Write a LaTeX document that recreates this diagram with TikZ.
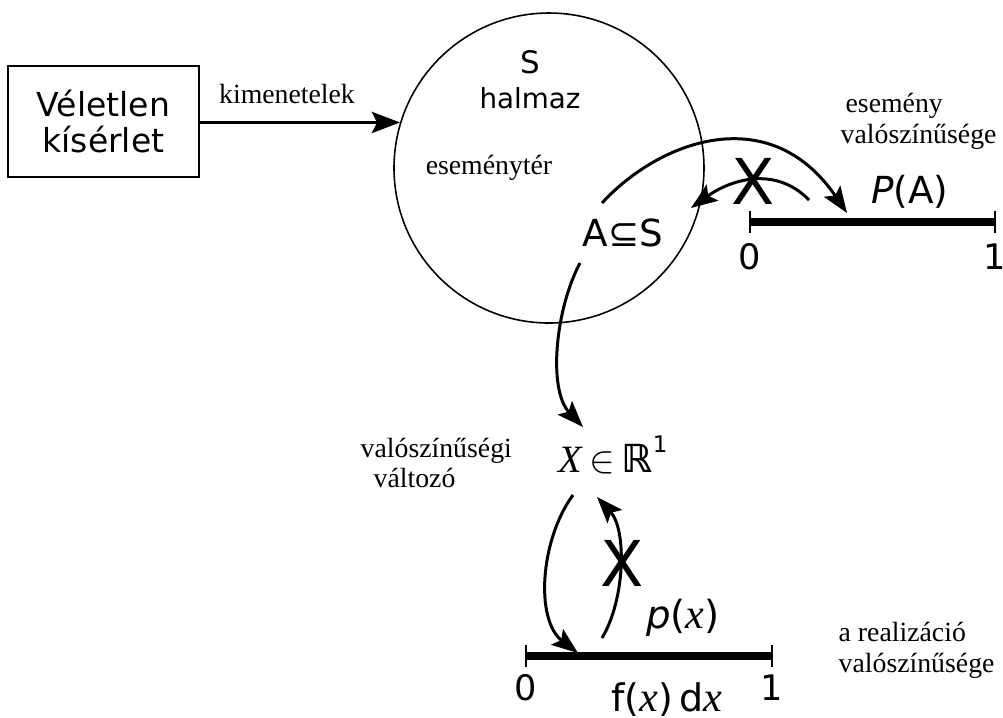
\documentclass[tikz,border=0pt]{standalone}
\usepackage{fontspec}
\setmainfont{Liberation Serif}
\setsansfont{DejaVu Sans}
\usetikzlibrary{arrows.meta}

\begin{document}
\begin{tikzpicture}[x=0.1mm, y=-0.1mm,
  lbl/.style={font=\fontsize{7.9}{8.8}\selectfont, align=left, inner sep=0pt},
  sflbl/.style={font=\sffamily\fontsize{10}{11}\selectfont, inner sep=0pt},
  bigx/.style={font=\sffamily\fontsize{18}{18}\selectfont, inner sep=0pt},
  arr/.style={line width=0.85pt, -{Stealth[length=7.5pt, width=5.6pt, inset=1.5pt]}},
  numline/.style={line width=2.3pt},
  tickmark/.style={line width=0.6pt}]
  \useasboundingbox (0,0) rectangle (1003,717);

  % experiment -> sample space
  \node[draw, line width=0.5pt, minimum width=19.1mm, minimum height=11.1mm,
        align=center, sflbl, font=\sffamily\fontsize{9.4}{10.5}\selectfont] (exp) at (103.5,121.5) {Véletlen\\kísérlet};
  \node[circle, draw, line width=0.45pt, minimum size=31mm, inner sep=0pt] (S) at (549,168) {};
  \node[sflbl, font=\sffamily\fontsize{7.9}{10}\selectfont, align=center] (halmaz) at (530,80)
    {{\fontsize{8.8}{10}\selectfont S}\\halmaz};
  \node[lbl] (esemter) at (489,168) {eseménytér};
  \node[sflbl, font=\sffamily\fontsize{10.6}{11}\selectfont] (sub) at (623,233) {A⊆S};
  \draw[line width=1.1pt, -{Stealth[length=8pt, width=6pt, inset=1.5pt]}]
    (exp.east |- S.163.5) -- (S.163.5);
  \node[lbl] (kimen) at (287,94) {kimenetelek};

  % event probability on [0,1]
  \coordinate (pa0) at (750,222);
  \coordinate (pa1) at (995,222);
  \draw[numline] (pa0) -- (pa1);
  \foreach \x in {750,995} \draw[tickmark] (\x,211) -- (\x,233);
  \node[sflbl] (pa0lbl) at (750,257) {0};
  \node[sflbl] (pa1lbl) at (995,257) {1};
  \node[sflbl, font=\sffamily\fontsize{10.6}{11}\selectfont] (PA) at (910,192) {{\itshape P}(A)};
  \node[lbl, anchor=west] (esemval) at (840,121) {\hspace{1.4pt}esemény\\valószínűsége};

  \coordinate (c1s) at (602,203);
  \coordinate (c1e) at (847,213);
  \coordinate (c2s) at (809,200);
  \coordinate (c2e) at (691,208);
  \draw[arr] (c1s) .. controls (660,140) and (770,100) .. (c1e);
  \draw[arr] (c2s) .. controls (775,165) and (730,180) .. (c2e);
  \node[bigx] (x1) at (753,181) {X};

  % random variable
  \coordinate (c3s) at (580,263);
  \coordinate (c3e) at (583,427);
  \draw[arr] (c3s) .. controls (555,310) and (548,390) .. (c3e);
  \node[font=\fontsize{11}{12}\selectfont, inner sep=0pt] (rv) at (613,455)
    {\textit{X}\,$\in$\,{\sffamily\bfseries ℝ}\raisebox{1.1ex}{\sffamily\fontsize{6.5}{6.5}\selectfont 1}};
  \node[lbl, anchor=west] (valvalt) at (360,463) {valószínűségi\\\hspace{3.7pt}változó};

  % density on [0,1]
  \coordinate (px0) at (526,656);
  \coordinate (px1) at (772,656);
  \draw[numline] (px0) -- (px1);
  \foreach \x in {526,772} \draw[tickmark] (\x,645) -- (\x,667);
  \node[sflbl] (px0lbl) at (526,688) {0};
  \node[sflbl] (px1lbl) at (772,688) {1};

  \coordinate (c4s) at (573,495);
  \coordinate (c4e) at (578,653);
  \coordinate (c5s) at (602,638);
  \coordinate (c5e) at (597,497);
  \draw[arr] (c4s) .. controls (540,540) and (535,620) .. (c4e);
  \draw[arr] (c5s) .. controls (625,600) and (627,530) .. (c5e);
  \node[bigx] (x2) at (622,563) {X};
  \node[sflbl, font=\sffamily\fontsize{11}{12}\selectfont] (px) at (683,618)
    {{\itshape p}({\rmfamily\itshape\fontsize{12}{12}\selectfont x})};
  \node[sflbl, font=\sffamily\fontsize{10.8}{12}\selectfont] (fx) at (667,700)
    {f({\rmfamily\itshape\fontsize{12}{12}\selectfont x})\,d{\rmfamily\itshape\fontsize{12}{12}\selectfont x}};
  \node[lbl, anchor=west] (realval) at (838,650) {a realizáció\\valószínűsége};
\end{tikzpicture}
\end{document}
